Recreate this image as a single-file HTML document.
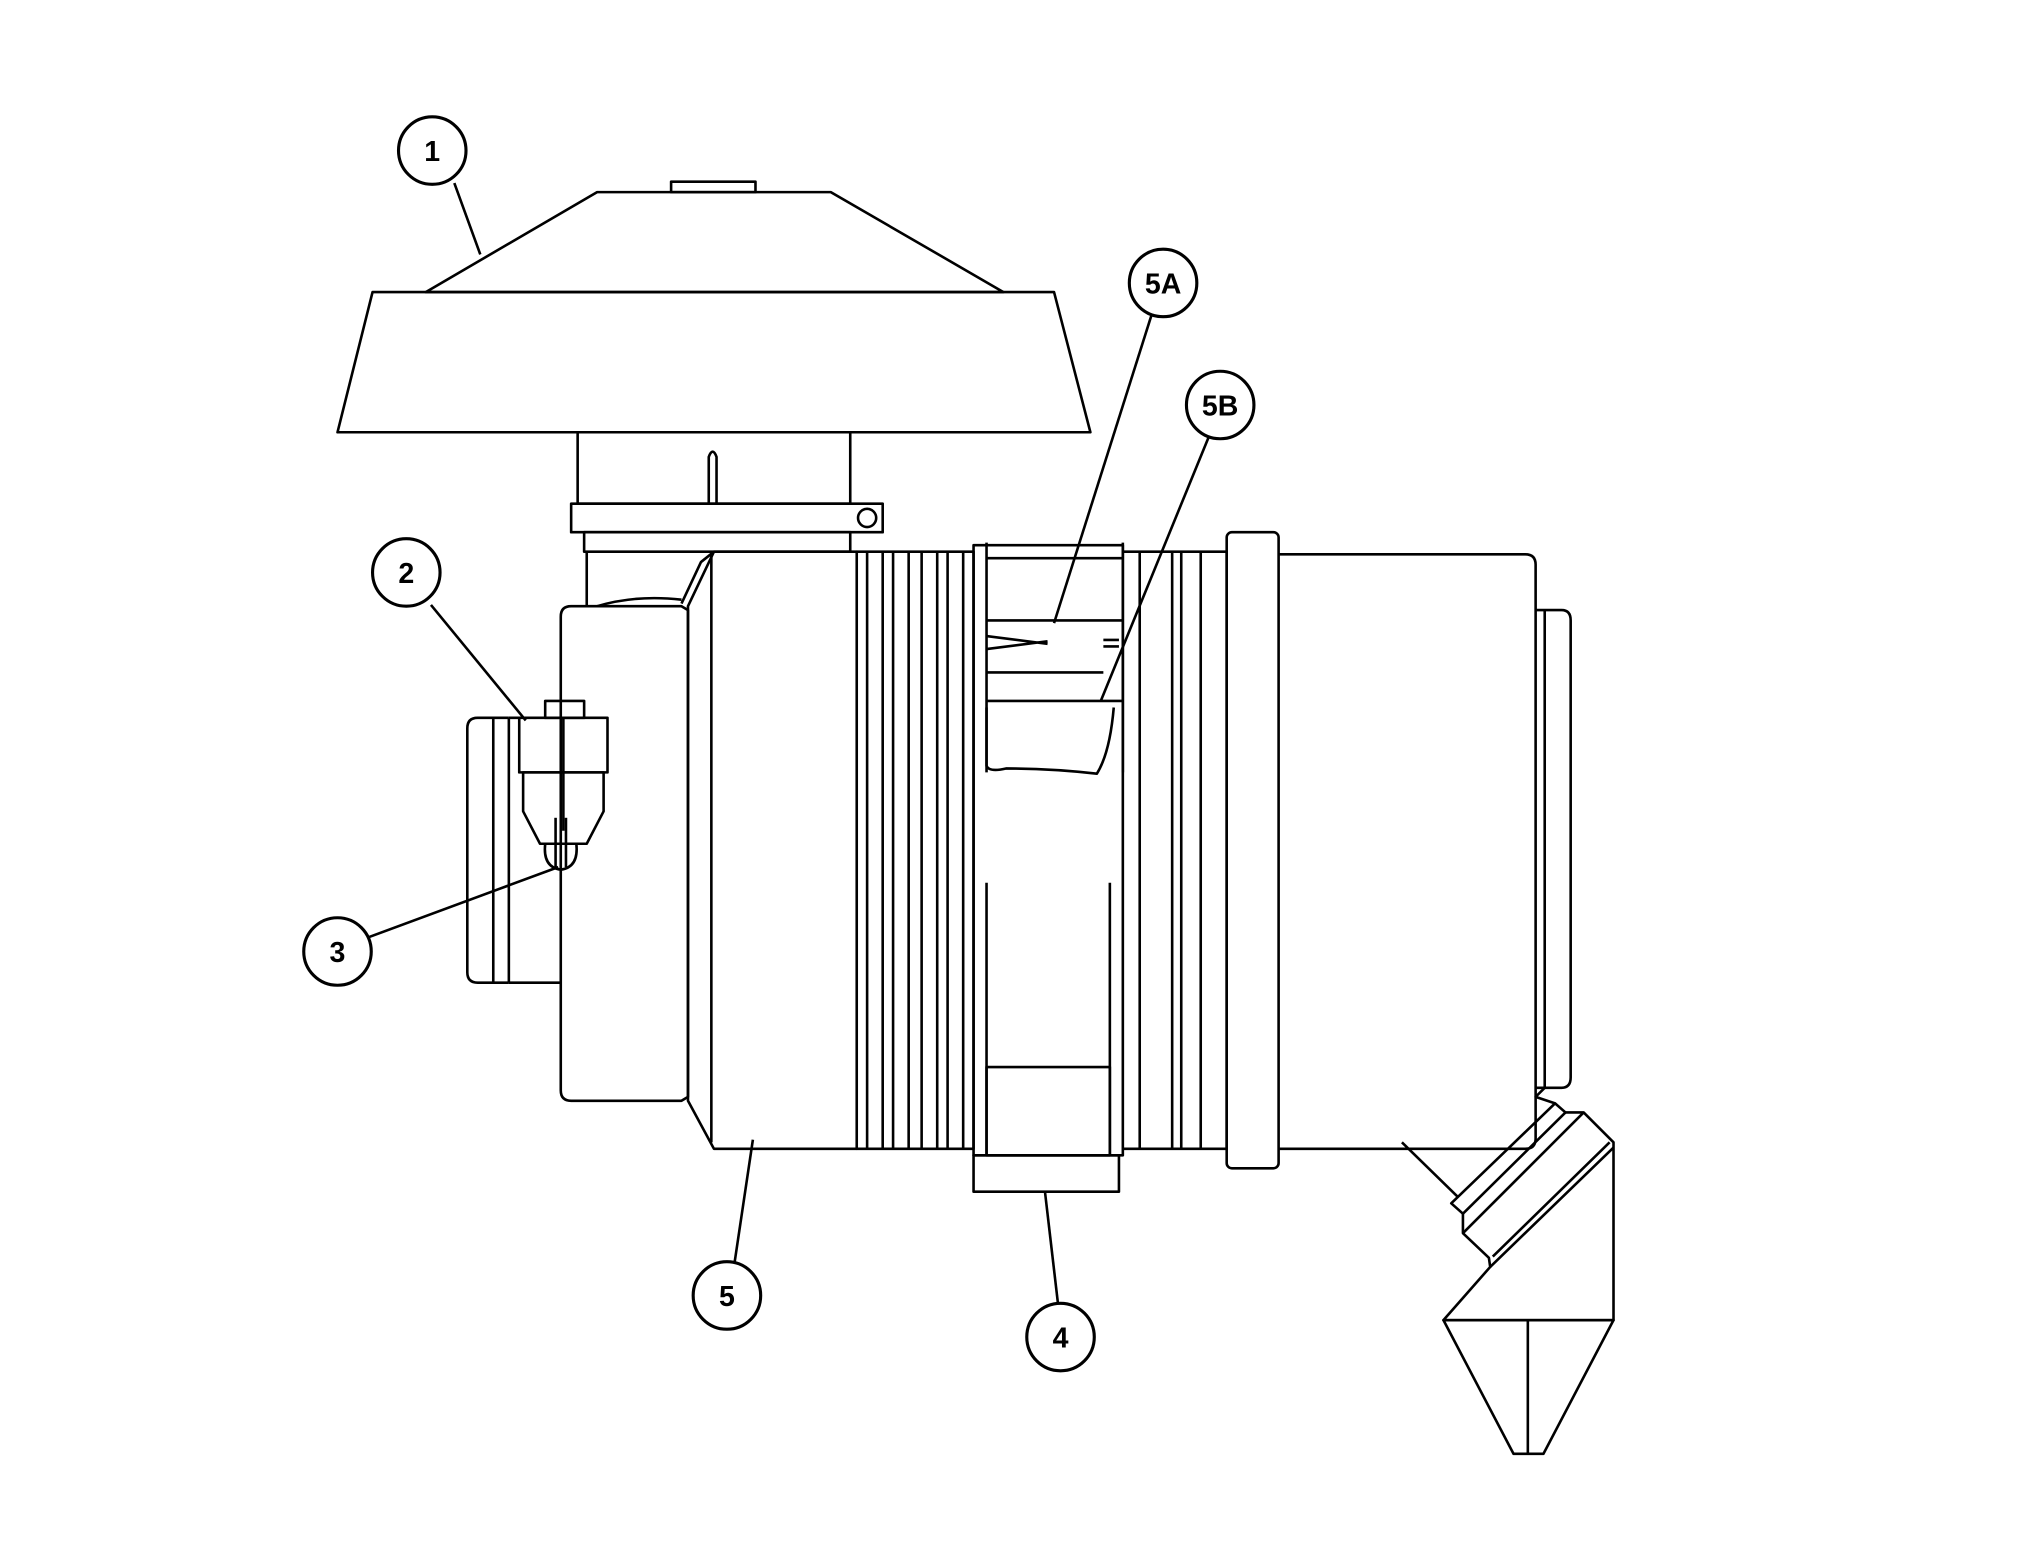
<!DOCTYPE html>
<html><head><style>html,body{margin:0;padding:0;background:#fff}svg{display:block}</style></head>
<body>
<svg width="2025" height="1559" viewBox="0 0 1560 1201" preserveAspectRatio="none" xmlns="http://www.w3.org/2000/svg">
<g fill="none" stroke="#000" stroke-width="2" stroke-linejoin="round">
<!-- cap -->
<rect x="517" y="140" width="65" height="8"/>
<polygon points="460,148 640,148 773,225 328,225"/>
<polygon points="287,225 812,225 840,333 260,333"/>
<!-- neck -->
<rect x="445" y="333" width="210" height="55"/>
<path d="M546,388 V352 Q549,344 552,352 V388"/>
<rect x="440" y="388" width="240" height="22"/>
<circle cx="668" cy="399" r="7"/>
<rect x="450" y="410" width="205" height="15"/>
<line x1="452" y1="425" x2="452" y2="467"/>
<!-- left housing -->
<path d="M440,467 H525 L530,470 V845 L525,848 H440 Q432,848 432,840 V475 Q432,467 440,467 Z"/>
<path d="M460,467 Q490,458 525,462"/>
<!-- inlet flange -->
<path d="M392,553 H368 Q360,553 360,561 V749 Q360,757 368,757 H392"/>
<line x1="380" y1="553" x2="380" y2="757"/>
<line x1="392" y1="553" x2="392" y2="757"/>
<path d="M392,757 H432 M392,553 H400"/>
<!-- indicator -->
<rect x="400" y="553" width="68" height="42"/>
<rect x="420" y="540" width="30" height="13"/>
<line x1="434" y1="553" x2="434" y2="640"/>
<polygon points="403,595 465,595 465,625 452,650 416,650 403,625"/>
<path d="M420,650 Q418,668 432,670 Q446,668 444,650"/>
<line x1="428" y1="630" x2="428" y2="668"/><line x1="436" y1="630" x2="436" y2="668"/>
<!-- main body 5 -->
<path d="M550,425 H660 V885 H550 L530,848 V467 Z"/>
<line x1="548" y1="428" x2="548" y2="880"/>
<path d="M550,425 L540,433 L525,465"/>
<!-- ribs -->
<g>
<line x1="668" y1="425" x2="668" y2="885"/><line x1="680" y1="425" x2="680" y2="885"/>
<line x1="688" y1="425" x2="688" y2="885"/><line x1="700" y1="425" x2="700" y2="885"/>
<line x1="710" y1="425" x2="710" y2="885"/><line x1="722" y1="425" x2="722" y2="885"/>
<line x1="730" y1="425" x2="730" y2="885"/><line x1="742" y1="425" x2="742" y2="885"/>
</g>
<path d="M660,425 H750 V885 H660"/>
<!-- middle section -->
<path d="M750,420 H865 V890 H750 Z"/>
<path d="M760,418 V595 M865,418 V595"/>
<line x1="760" y1="430" x2="865" y2="430"/>
<line x1="760" y1="478" x2="865" y2="478"/>
<path d="M760,490 L807,496 M760,500 L807,494 M850,493 L862,493 M850,498 L862,498"/>
<line x1="760" y1="518" x2="850" y2="518"/>
<line x1="760" y1="540" x2="865" y2="540"/>
<path d="M760,545 V590 Q762,595 775,592 Q810,592 845,596 Q855,580 858,545"/>
<line x1="760" y1="680" x2="760" y2="890"/><line x1="855" y1="680" x2="855" y2="890"/>
<rect x="760" y="822" width="95" height="68"/>
<rect x="750" y="890" width="112" height="28"/>
<!-- right ribs and flange -->
<path d="M865,425 H945 V885 H865"/>
<line x1="878" y1="425" x2="878" y2="885"/>
<line x1="903" y1="425" x2="903" y2="885"/><line x1="910" y1="425" x2="910" y2="885"/>
<line x1="925" y1="425" x2="925" y2="885"/>
<rect x="945" y="410" width="40" height="490" rx="4"/>
<!-- right body -->
<path d="M985,427 H1175 Q1183,427 1183,435 V877 Q1183,885 1175,885 H985"/>
<path d="M1183,470 H1203 Q1210,470 1210,478 V830 Q1210,838 1203,838 H1183"/>
<line x1="1190" y1="470" x2="1190" y2="838"/>
<!-- outlet -->
<path d="M1080,880 L1123,922"/>
<polygon points="1118,927 1198,850 1206,857 1127,935"/>
<path d="M1127,935 V950 L1147,969 L1148,976 L1112,1017 H1243 V880 L1220,857 H1206"/>
<line x1="1127" y1="950" x2="1220" y2="857"/>
<line x1="1148" y1="976" x2="1243" y2="884"/>
<line x1="1150" y1="968" x2="1240" y2="880"/>
<path d="M1190,838 L1183,845 L1198,850"/>
<!-- cone -->
<polygon points="1112,1017 1243,1017 1189,1120 1166,1120"/>
<line x1="1177" y1="1017" x2="1177" y2="1120"/>
<!-- leaders -->
<line x1="350" y1="141" x2="370" y2="196"/>
<line x1="332" y1="466" x2="405" y2="555"/>
<line x1="284" y1="722" x2="430" y2="668"/>
<line x1="566" y1="972" x2="580" y2="878"/>
<line x1="815" y1="1004" x2="805" y2="918"/>
<line x1="887" y1="243" x2="812" y2="480"/>
<line x1="931" y1="337" x2="848" y2="540"/>
</g>
<g stroke="#000" stroke-width="2.4" fill="#fff">
<circle cx="333" cy="116" r="26"/><circle cx="313" cy="441" r="26"/>
<circle cx="260" cy="733" r="26"/><circle cx="560" cy="998" r="26"/>
<circle cx="817" cy="1030" r="26"/><circle cx="896" cy="218" r="26"/>
<circle cx="940" cy="312" r="26"/>
</g>
<g font-family="Liberation Sans, sans-serif" font-weight="bold" font-size="22" text-anchor="middle">
<text x="333" y="124">1</text><text x="313" y="449">2</text><text x="260" y="741">3</text>
<text x="560" y="1006">5</text><text x="817" y="1038">4</text><text x="896" y="226">5A</text>
<text x="940" y="320">5B</text>
</g>
</svg>
</body></html>
